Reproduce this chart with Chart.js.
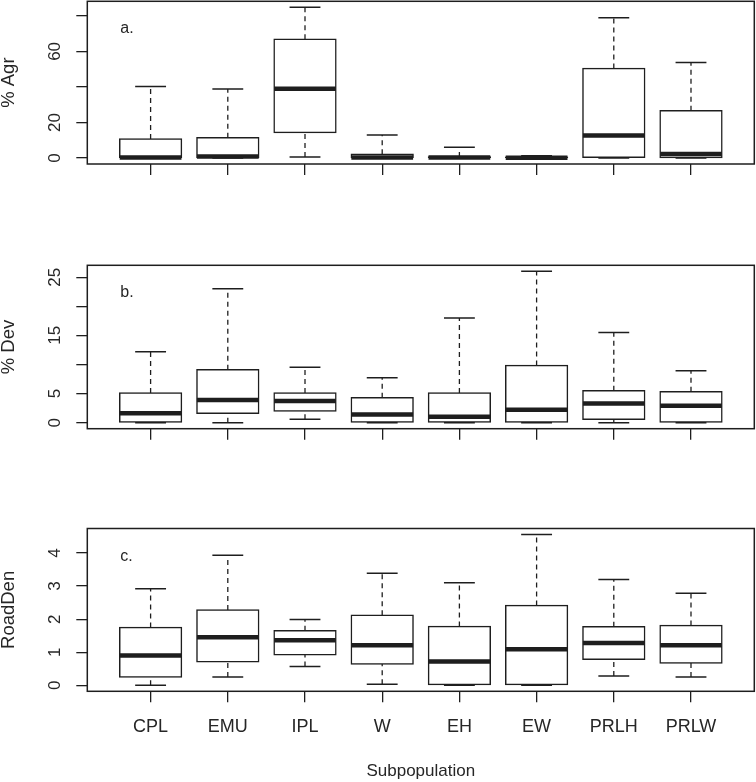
<!DOCTYPE html>
<html>
<head>
<meta charset="utf-8">
<script src="https://cdn.jsdelivr.net/npm/chart.js@4.4.1/dist/chart.umd.min.js"></script>
<style>
html,body{margin:0;padding:0;background:#fff;}
#wrap{position:relative;width:756px;height:782px;overflow:hidden;}
canvas{position:absolute;left:0;}
</style>
</head>
<body>
<div id="wrap">
<canvas id="grafAgr" width="756" height="261" style="top:0px"></canvas>
<canvas id="grafDev" width="756" height="260" style="top:261px"></canvas>
<canvas id="grafRoad" width="756" height="261" style="top:521px"></canvas>
</div>
<script>
(function(){

const subpop = ['CPL','EMU','IPL','W','EH','EW','PRLH','PRLW'];

// % Agr  (painel a)
const agrMin = [0, 0, 0.6, 0, 0, 0, 0, 0];
const agrQ1  = [0, 0, 14.4, 0, 0, 0, 0, 0.3];
const agrMed = [0.2, 0.9, 39.0, 0.3, 0.2, 0.1, 12.6, 2.2];
const agrQ3  = [10.7, 11.4, 66.8, 2.1, 0.6, 0.4, 50.3, 26.6];
const agrMax = [40.3, 38.8, 84.8, 12.9, 6.0, 1.3, 79.0, 53.8];
const agrTicks = [0, 20, 40, 60, 80];
const agrTickLabels = ['0', '20', '', '60', ''];

// % Dev  (painel b)
const devMin = [0, 0, 0.6, 0, 0, 0, 0, 0];
const devQ1  = [0, 1.6, 2.0, 0, 0, 0, 0.6, 0];
const devMed = [1.6, 3.9, 3.7, 1.4, 1.0, 2.2, 3.3, 2.9];
const devQ3  = [5.1, 9.1, 5.1, 4.3, 5.1, 9.8, 5.5, 5.3];
const devMax = [12.2, 23.0, 9.5, 7.7, 18.0, 26.0, 15.5, 8.9];
const devTicks = [0, 5, 10, 15, 20, 25];
const devTickLabels = ['0', '5', '', '15', '', '25'];

// RoadDen  (painel c)
const roadMin = [0, 0.25, 0.57, 0.03, 0, 0, 0.28, 0.25];
const roadQ1  = [0.25, 0.71, 0.92, 0.64, 0, 0, 0.79, 0.67];
const roadMed = [0.90, 1.45, 1.36, 1.21, 0.72, 1.09, 1.28, 1.21];
const roadQ3  = [1.75, 2.28, 1.65, 2.12, 1.78, 2.41, 1.77, 1.81];
const roadMax = [2.92, 3.93, 1.99, 3.39, 3.10, 4.56, 3.20, 2.78];
const roadTicks = [0, 1, 2, 3, 4];
const roadTickLabels = ['0', '1', '2', '3', '4'];

const INK = '#1e1e1e';
const TXT = '#262626';
const FONT = "'Liberation Sans', Arial, sans-serif";
const BOXWEX = 0.8;   // largura da caixa (unidades do eixo x)
const STAPLE = 0.5;   // largura da tampa relativa à caixa

// moldura + letra do painel
const moldura = {
  id: 'moldura',
  afterDatasetsDraw(chart, args, opts){
    const {ctx, chartArea:{left, top, width, height}} = chart;
    ctx.save();
    ctx.strokeStyle = INK;
    ctx.lineWidth = 1.5;
    ctx.strokeRect(left, top, width, height);
    ctx.fillStyle = TXT;
    ctx.font = '16px ' + FONT;
    ctx.textBaseline = 'alphabetic';
    ctx.fillText(opts.letra, left + 33, top + 32);
    ctx.restore();
  }
};

function boxplot(canvasId, p){

  const n = subpop.length;
  const todos = p.min.concat(p.max);
  const lo = Math.min(...todos), hi = Math.max(...todos);
  const ext = 0.04 * (hi - lo);

  let caixas = [], hastes = [], tampas = [], medianas = [];
  const hw = BOXWEX / 2, sw = BOXWEX * STAPLE / 2;

  subpop.forEach((_, i) => {
    const x = i + 1;
    caixas.push({x: x, y: [p.q1[i], p.q3[i]]});

    hastes.push({x: x, y: p.q3[i]}, {x: x, y: p.max[i]}, {x: x, y: null});
    hastes.push({x: x, y: p.min[i]}, {x: x, y: p.q1[i]}, {x: x, y: null});

    tampas.push({x: x - sw, y: p.max[i]}, {x: x + sw, y: p.max[i]}, {x: x, y: null});
    tampas.push({x: x - sw, y: p.min[i]}, {x: x + sw, y: p.min[i]}, {x: x, y: null});

    medianas.push({x: x - hw, y: p.med[i]}, {x: x + hw, y: p.med[i]}, {x: x, y: null});
  });

  const maxLen = Math.max(...p.tickLabels.map(s => s.length));

  new Chart(document.getElementById(canvasId), {
    type: 'bar',
    data: {
      datasets: [
        {type: 'line', data: medianas, borderColor: INK, borderWidth: 4.5, pointRadius: 0, spanGaps: false, order: 0},
        {type: 'line', data: tampas, borderColor: INK, borderWidth: 1.5, pointRadius: 0, spanGaps: false, order: 1},
        {type: 'line', data: hastes, borderColor: INK, borderWidth: 1.3, borderDash: [5, 4], pointRadius: 0, spanGaps: false, order: 1},
        {type: 'bar', data: caixas, backgroundColor: '#ffffff', borderColor: INK, borderWidth: 1.5,
         inflateAmount: 0.75, borderSkipped: false, barPercentage: BOXWEX, categoryPercentage: 1, order: 2}
      ]
    },
    options: {
      responsive: false,
      animation: false,
      events: [],
      layout: {padding: {left: 0, right: p.padRight, top: p.padTop, bottom: 0}},
      plugins: {
        legend: {display: false},
        tooltip: {enabled: false},
        moldura: {letra: p.letra}
      },
      scales: {
        x: {
          type: 'linear',
          offset: false,
          min: 0.5 - 0.04 * n,
          max: n + 0.5 + 0.04 * n,
          afterBuildTicks: s => { s.ticks = subpop.map((_, i) => ({value: i + 1})); },
          ticks: {
            display: p.showX,
            autoSkip: false,
            maxRotation: 0,
            padding: 14,
            color: TXT,
            font: {family: FONT, size: 18},
            callback: (v, i) => subpop[i]
          },
          grid: {offset: false, drawOnChartArea: false, tickLength: 11, color: INK, lineWidth: 1.3},
          border: {display: false},
          title: {display: p.showX, text: 'Subpopulation', color: TXT,
                  font: {family: FONT, size: 17, lineHeight: 1.2}, padding: {top: 0, bottom: 0}},
          afterFit: s => { s.height = p.xHeight; s.paddingLeft = 0; s.paddingRight = 0; }
        },
        y: {
          min: lo - ext,
          max: hi + ext,
          afterBuildTicks: s => { s.ticks = p.ticks.map(v => ({value: v})); },
          ticks: {
            autoSkip: false,
            minRotation: 90,
            maxRotation: 90,
            crossAlign: 'center',
            padding: 21 - maxLen * 0.278 * 17,
            color: TXT,
            font: {family: FONT, size: 17},
            callback: (v, i) => p.tickLabels[i]
          },
          grid: {drawOnChartArea: false, tickLength: 11, color: INK, lineWidth: 1.3},
          border: {display: false},
          title: {display: true, text: p.titulo, color: TXT,
                  font: {family: FONT, size: 18.5, lineHeight: 1}, padding: {top: 0, bottom: 0}},
          afterFit: s => { s.width = 87.3; s.paddingTop = 0; s.paddingBottom = 0; }
        }
      }
    },
    plugins: [moldura]
  });
}

boxplot('grafAgr', {
  min: agrMin, q1: agrQ1, med: agrMed, q3: agrQ3, max: agrMax,
  ticks: agrTicks, tickLabels: agrTickLabels, titulo: '% Agr', letra: 'a.',
  showX: false, padTop: 1.3, padRight: 1.7, xHeight: 97
});

boxplot('grafDev', {
  min: devMin, q1: devQ1, med: devMed, q3: devQ3, max: devMax,
  ticks: devTicks, tickLabels: devTickLabels, titulo: '% Dev', letra: 'b.',
  showX: false, padTop: 4.3, padRight: 1.7, xHeight: 92.3
});

boxplot('grafRoad', {
  min: roadMin, q1: roadQ1, med: roadMed, q3: roadQ3, max: roadMax,
  ticks: roadTicks, tickLabels: roadTickLabels, titulo: 'RoadDen', letra: 'c.',
  showX: true, padTop: 7.5, padRight: 1.7, xHeight: 90.7
});

})();
</script>
</body>
</html>
